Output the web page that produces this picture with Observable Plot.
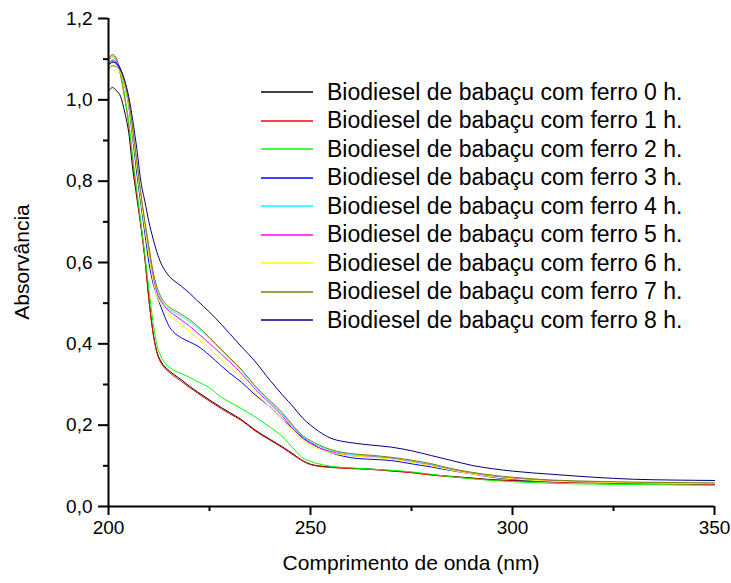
<!DOCTYPE html>
<html><head><meta charset="utf-8">
<script src="https://cdn.jsdelivr.net/npm/d3@7"></script>
<script src="https://cdn.jsdelivr.net/npm/@observablehq/plot@0.6"></script>
<style>
body{margin:0;background:#fff;font-family:Arial,"Liberation Sans",sans-serif;}
#wrap{position:relative;width:731px;height:583px;overflow:hidden;}
#legend{position:absolute;left:261px;top:78px;font-size:23px;color:#000;}
.row{height:28.5px;display:flex;align-items:center;white-space:nowrap;}
.row svg{margin-right:14px;}
#xt{position:absolute;left:111px;width:600px;top:551px;text-align:center;font-size:21px;}
#yt{position:absolute;left:22px;top:262px;font-size:21px;transform:translate(-50%,-50%) rotate(-90deg);white-space:nowrap;}
</style></head><body><div id="wrap"></div>
<script>
const wavelength = [200,201,202,203,204,205,206,207,208,209,210,211,212,213,214,215,216,218,220,222,225,228,230,233,236,240,243,246,248,250,252,255,258,260,265,270,275,280,285,290,295,300,310,320,330,340,350];
const h0 = [1.022,1.030,1.022,1.008,0.970,0.920,0.830,0.760,0.690,0.610,0.510,0.430,0.380,0.357,0.343,0.334,0.326,0.312,0.296,0.282,0.262,0.243,0.231,0.213,0.190,0.165,0.147,0.127,0.113,0.104,0.100,0.097,0.095,0.094,0.092,0.088,0.084,0.078,0.074,0.070,0.066,0.064,0.061,0.059,0.057,0.056,0.055];
const h1 = [1.100,1.111,1.100,1.060,1.005,0.940,0.850,0.770,0.695,0.612,0.510,0.428,0.377,0.353,0.339,0.330,0.322,0.308,0.293,0.279,0.259,0.240,0.228,0.211,0.188,0.163,0.145,0.125,0.112,0.103,0.099,0.096,0.094,0.093,0.091,0.087,0.083,0.077,0.073,0.069,0.065,0.063,0.060,0.058,0.056,0.055,0.054];
const h2 = [1.095,1.106,1.095,1.062,1.010,0.945,0.858,0.778,0.700,0.620,0.535,0.455,0.397,0.369,0.353,0.343,0.336,0.327,0.318,0.307,0.292,0.268,0.257,0.240,0.222,0.195,0.172,0.140,0.120,0.111,0.105,0.099,0.096,0.095,0.092,0.089,0.085,0.079,0.073,0.068,0.064,0.061,0.057,0.055,0.054,0.053,0.052];
const h3 = [1.085,1.093,1.088,1.070,1.035,0.985,0.905,0.820,0.745,0.672,0.600,0.550,0.518,0.490,0.465,0.443,0.430,0.415,0.405,0.395,0.372,0.345,0.328,0.305,0.277,0.245,0.215,0.188,0.170,0.157,0.145,0.132,0.124,0.120,0.116,0.113,0.105,0.097,0.088,0.080,0.072,0.067,0.062,0.060,0.058,0.057,0.056];
const h4 = [1.088,1.097,1.092,1.075,1.042,0.995,0.925,0.845,0.765,0.695,0.632,0.573,0.532,0.508,0.494,0.485,0.479,0.468,0.455,0.440,0.413,0.383,0.363,0.333,0.298,0.258,0.228,0.192,0.172,0.159,0.149,0.138,0.131,0.128,0.124,0.119,0.112,0.103,0.091,0.082,0.075,0.070,0.064,0.061,0.059,0.058,0.057];
const h5 = [1.090,1.098,1.093,1.075,1.040,0.992,0.920,0.840,0.760,0.690,0.625,0.565,0.525,0.505,0.491,0.481,0.473,0.459,0.444,0.427,0.401,0.374,0.356,0.326,0.292,0.253,0.223,0.187,0.168,0.155,0.145,0.135,0.128,0.125,0.122,0.118,0.110,0.101,0.090,0.081,0.074,0.069,0.063,0.060,0.058,0.057,0.056];
const h6 = [1.075,1.083,1.080,1.066,1.035,0.988,0.915,0.835,0.755,0.685,0.618,0.558,0.518,0.497,0.483,0.471,0.462,0.447,0.431,0.414,0.389,0.360,0.344,0.315,0.282,0.245,0.215,0.181,0.163,0.150,0.142,0.132,0.127,0.125,0.121,0.117,0.109,0.100,0.089,0.080,0.073,0.068,0.062,0.060,0.058,0.057,0.056];
const h7 = [1.075,1.084,1.082,1.070,1.042,0.997,0.928,0.850,0.772,0.702,0.640,0.580,0.540,0.515,0.500,0.490,0.484,0.473,0.460,0.444,0.416,0.386,0.366,0.336,0.300,0.260,0.231,0.195,0.175,0.162,0.152,0.140,0.133,0.130,0.126,0.121,0.114,0.105,0.093,0.084,0.077,0.072,0.065,0.062,0.060,0.059,0.058];
const h8 = [1.085,1.093,1.090,1.075,1.048,1.008,0.950,0.880,0.800,0.750,0.700,0.660,0.625,0.598,0.580,0.566,0.557,0.542,0.525,0.506,0.478,0.447,0.425,0.392,0.360,0.310,0.275,0.242,0.218,0.200,0.185,0.168,0.160,0.157,0.151,0.146,0.137,0.125,0.113,0.101,0.093,0.087,0.079,0.072,0.067,0.065,0.064];
const seriesNames = ["Biodiesel de babaçu com ferro 0 h.","Biodiesel de babaçu com ferro 1 h.","Biodiesel de babaçu com ferro 2 h.","Biodiesel de babaçu com ferro 3 h.","Biodiesel de babaçu com ferro 4 h.","Biodiesel de babaçu com ferro 5 h.","Biodiesel de babaçu com ferro 6 h.","Biodiesel de babaçu com ferro 7 h.","Biodiesel de babaçu com ferro 8 h."];
const seriesColors = ["#000000","#ff0000","#00ff00","#0000ff","#00ffff","#ff00ff","#ffff00","#808000","#000080"];
const xTicks = [200,250,300,350];
const xMinorTicks = [225,275,325];
const yTicks = [0,0.2,0.4,0.6,0.8,1.0,1.2];
const yMinorTicks = [0.1,0.3,0.5,0.7,0.9,1.1];
const xTitle = "Comprimento de onda (nm)";
const yTitle = "Absorvância";

const allSeries = [h0,h1,h2,h3,h4,h5,h6,h7,h8];
const rows = [];
allSeries.forEach((vals,i)=>vals.forEach((v,j)=>rows.push({x:wavelength[j], y:v, s:seriesNames[i]})));

const fmt = d => d.toFixed(1).replace(".", ",");
const chart = Plot.plot({
  width: 731, height: 583,
  marginLeft: 108, marginRight: 17, marginTop: 18, marginBottom: 77,
  style: {fontFamily: "Arial, 'Liberation Sans', sans-serif", fontSize: "19px", color: "#000", background: "#fff", overflow: "visible"},
  x: {domain: [200, 350]},
  y: {domain: [0, 1.2]},
  color: {domain: seriesNames, range: seriesColors},
  marks: [
    Plot.axisY({ticks: yTicks, tickSize: 10, tickPadding: 6, tickFormat: fmt, strokeWidth: 2, label: null}),
    Plot.axisY({ticks: yMinorTicks, tickSize: 5, tickFormat: () => "", strokeWidth: 2, label: null}),
    Plot.axisX({ticks: xTicks, tickSize: 9, tickPadding: 5, tickFormat: d => String(d), strokeWidth: 2, label: null}),
    Plot.axisX({ticks: xMinorTicks, tickSize: 5, tickFormat: () => "", strokeWidth: 2, label: null}),
    Plot.line(rows, {x: "x", y: "y", z: "s", stroke: "s", strokeWidth: 1, curve: "monotone-x"}),
    Plot.ruleX([200], {strokeWidth: 2}),
    Plot.ruleY([0], {strokeWidth: 2})
  ]
});
const wrap = document.getElementById("wrap");
wrap.appendChild(chart);

const legend = document.createElement("div");
legend.id = "legend";
seriesNames.forEach((n,i)=>{
  const r = document.createElement("div");
  r.className = "row";
  r.innerHTML = `<svg width="52" height="4"><line x1="0" x2="52" y1="2" y2="2" stroke="${seriesColors[i]}" stroke-width="1.3"/></svg><span>${n}</span>`;
  legend.appendChild(r);
});
wrap.appendChild(legend);
const xt = document.createElement("div"); xt.id = "xt"; xt.textContent = xTitle; wrap.appendChild(xt);
const yt = document.createElement("div"); yt.id = "yt"; yt.textContent = yTitle; wrap.appendChild(yt);
</script>
</body></html>
